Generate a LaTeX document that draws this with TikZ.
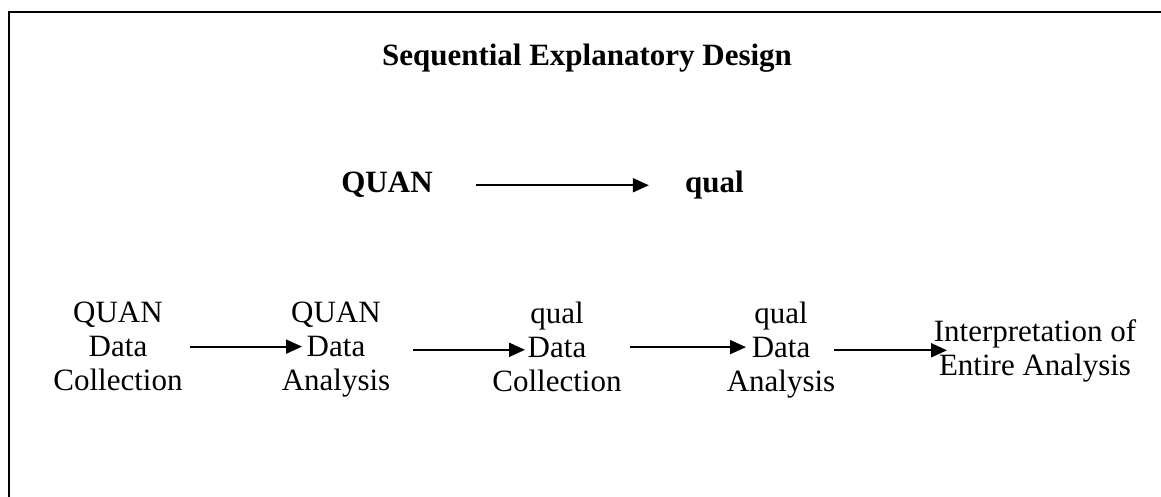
\documentclass[tikz,border=0pt]{standalone}
\usepackage{fontspec}
\setmainfont{Liberation Serif}
\usepackage{tikz}
\usetikzlibrary{arrows.meta,positioning}
\newcommand{\diagfont}{\fontsize{31}{34}\selectfont}

\begin{document}
\begin{tikzpicture}[x=1pt, y=-1pt,
        stage/.style = {align = center, inner sep = 0pt, anchor = north, font = \diagfont},
        flow/.style = {draw, line width = 2pt, -{Triangle[length=16pt,width=14pt]}}]
        \useasboundingbox (0,0) rectangle (1161,497);
        \path [draw, line width = 2pt] (9,497) -- (9,12) -- (1161,12);
        \node (title) at (587,66) [anchor = base, inner sep = 0pt, font = \diagfont\bfseries] {Sequential Explanatory Design};
        \node (quanTop) at (387,193) [anchor = base, inner sep = 0pt, font = \diagfont\bfseries] {QUAN};
        \node (qualTop) [base right = 252pt of quanTop, inner sep = 0pt, font = \diagfont\bfseries] {qual};
        \node (quanCollect) at (118,302) [stage] {QUAN \\ Data \\ Collection};
        \node (quanAnalyse) at (336,302) [stage] {QUAN \\ Data \\ Analysis};
        \node (qualCollect) at (557,302) [stage] {qual \\ Data \\ Collection};
        \node (qualAnalyse) at (781,302) [stage] {qual \\ Data \\ Analysis};
        \node (interpret) at (1035,319) [stage] {Interpretation of \\ Entire Analysis};
        \path [flow, shorten <= 43pt, shorten >= 36pt] (quanTop.east) -- (quanTop.east -| qualTop.west);
        \path [flow, shorten <= 72pt, shorten >= 34pt] (quanCollect.center) -- (quanCollect -| quanAnalyse);
        \path [flow, shorten <= 77pt, shorten >= 32pt] (quanAnalyse.center) -- (quanAnalyse -| qualCollect);
        \path [flow, shorten <= 73pt, shorten >= 35pt] (qualCollect.center) -- (qualCollect -| qualAnalyse);
        \path [flow, shorten <= 53pt, shorten >= 88pt] (qualAnalyse.center) -- (qualAnalyse -| interpret);
    \end{tikzpicture}
\end{document}
